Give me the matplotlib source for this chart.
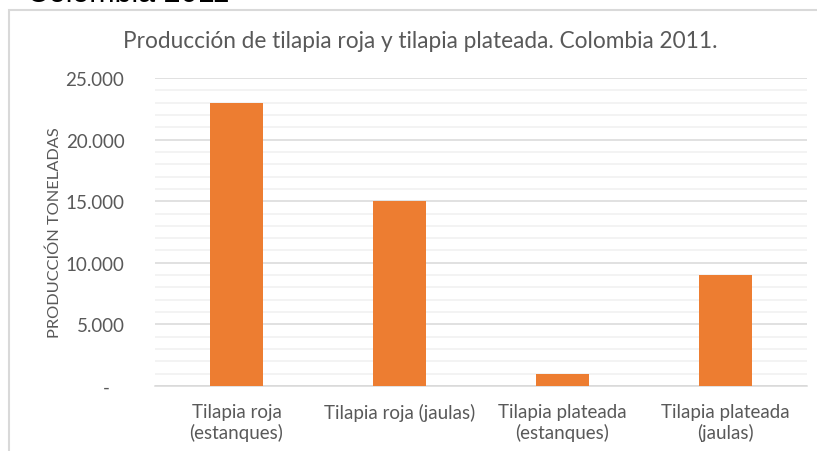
import matplotlib.pyplot as plt
from matplotlib.ticker import MultipleLocator, FuncFormatter
from matplotlib.patches import Rectangle

# Datos: producción en toneladas, Colombia 2011
categorias = ['Tilapia roja\n(estanques)', 'Tilapia roja (jaulas)',
              'Tilapia plateada\n(estanques)', 'Tilapia plateada\n(jaulas)']
produccion = [23000, 15000, 950, 9000]

titulo = 'Producción de tilapia roja y tilapia plateada. Colombia 2011.'
etiqueta_y = 'PRODUCCIÓN TONELADAS'

gris_texto = '#595959'
naranja = '#ED7D31'

plt.rcParams['font.family'] = ['Lato', 'DejaVu Sans']

fig = plt.figure(figsize=(8.17, 4.52), dpi=100)
ax = fig.add_axes([155 / 817, 1 - 387 / 452, 652 / 817, 308 / 452])

x = range(len(categorias))
ax.bar(x, produccion, width=0.33, color=naranja, zorder=3)

ax.set_xlim(-0.5, len(categorias) - 0.5)
ax.set_ylim(0, 25000)
ax.yaxis.set_major_locator(MultipleLocator(5000))
ax.yaxis.set_minor_locator(MultipleLocator(1000))


def formato(v, pos):
    if v == 0:
        return '-   '
    return f'{int(v):,}'.replace(',', '.')


ax.yaxis.set_major_formatter(FuncFormatter(formato))
ax.grid(axis='y', which='major', color='#d9d9d9', lw=1.1, zorder=0)
ax.grid(axis='y', which='minor', color='#f0f0f0', lw=1.1, zorder=0)
ax.tick_params(axis='y', which='both', length=0, labelsize=13.5, colors=gris_texto, pad=22)
ax.tick_params(axis='x', length=0, labelsize=13.5, colors=gris_texto, pad=12)
ax.set_xticks(list(x))
ax.set_xticklabels(categorias, linespacing=1.25)

for s in ['top', 'right', 'left']:
    ax.spines[s].set_visible(False)
ax.spines['bottom'].set_color('#d9d9d9')
ax.spines['bottom'].set_linewidth(1.1)

ax.set_ylabel(etiqueta_y, fontsize=11.8, color=gris_texto)
ax.yaxis.set_label_coords((62 - 155) / 652, 0.5)
fig.text(420 / 817, 1 - 42 / 452, titulo, ha='center', va='center', fontsize=16.3, color=gris_texto)

# marco del gráfico y texto recortado de arriba
fig.patches.append(Rectangle((9 / 817, -0.1), 1.0, 1 - 11 / 452 + 0.1, transform=fig.transFigure,
                             fill=False, edgecolor='#d9d9d9', lw=1.5))
fig.text(27 / 817, 1 - 1.5 / 452, 'Colombia 2011', ha='left', va='baseline', fontsize=22,
         color='black', family=['Liberation Sans'])

fig.savefig('out.png', dpi=100)
